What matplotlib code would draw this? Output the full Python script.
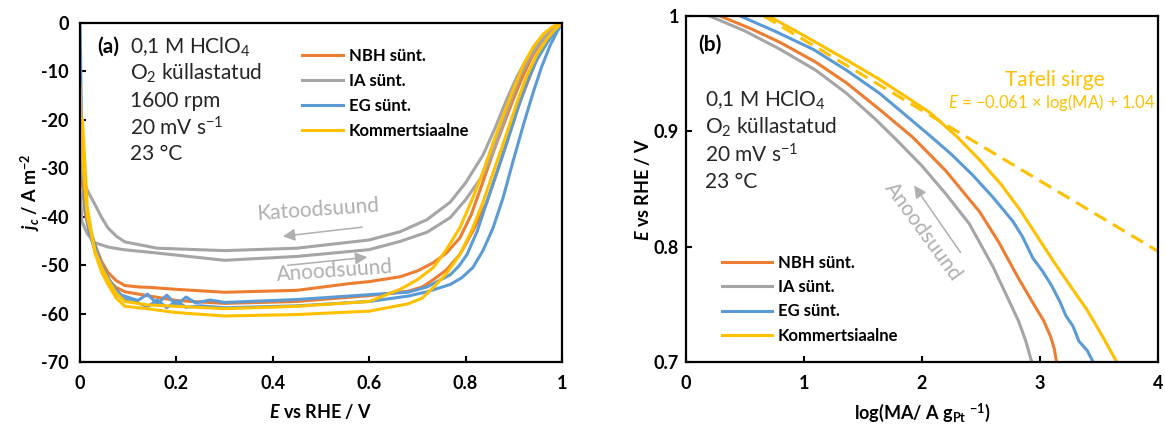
import matplotlib
matplotlib.use("Agg")
import matplotlib.pyplot as plt

plt.rcParams['font.family'] = ['Lato', 'DejaVu Sans']
plt.rcParams['mathtext.fontset'] = 'custom'
plt.rcParams['mathtext.rm'] = 'Lato'
plt.rcParams['mathtext.it'] = 'Lato:italic'
plt.rcParams['mathtext.bf'] = 'Lato:bold'
plt.rcParams['mathtext.bfit'] = 'Lato:italic:bold'
plt.rcParams['axes.unicode_minus'] = False

# colours (Office palette)
ORANGE = '#ED7D31'
GRAY = '#A5A5A5'
BLUE = '#5B9BD5'
YELLOW = '#FFC000'

labels = ['NBH sünt.', 'IA sünt.', 'EG sünt.', 'Kommertsiaalne']

# ---------- (a) polarisation curves, E / V vs j / A m-2 ----------
# NBH
nbh_E1 = [0.0, 0.005, 0.01, 0.02, 0.031, 0.045, 0.058, 0.075, 0.093, 0.12, 0.145, 0.2, 0.3, 0.45, 0.56, 0.6, 0.664,
          0.70, 0.733, 0.76, 0.788, 0.812, 0.836, 0.858, 0.878, 0.90, 0.919, 0.94, 0.961, 0.98, 1.0]
nbh_j1 = [-20, -31, -38, -42.5, -45.8, -49.3, -51.5, -53.2, -54.2, -54.5, -54.6, -55.0, -55.6, -55.2, -53.8, -53.4, -52.4,
          -51.2, -49.5, -47.5, -44.4, -39.5, -32.8, -26.5, -21.2, -15.5, -10.9, -6.5, -3.3, -1.3, 0]
nbh_E2 = [0.0, 0.005, 0.01, 0.02, 0.031, 0.045, 0.058, 0.075, 0.093, 0.14, 0.2, 0.3, 0.45, 0.6, 0.68,
          0.71, 0.733, 0.76, 0.788, 0.815, 0.844, 0.868, 0.892, 0.914, 0.934, 0.95, 0.965, 0.98, 1.0]
nbh_j2 = [-22, -33, -39, -43.5, -46.5, -50.5, -53, -54.6, -55.5, -56.3, -57.3, -57.9, -57.5, -56.3, -55.4,
          -54.5, -53.0, -51.0, -47.8, -43.0, -37, -30, -22.6, -16, -10.9, -6.8, -3.8, -1.6, 0]

# IA
ia_E1 = [0.0, 0.004, 0.015, 0.031, 0.045, 0.058, 0.075, 0.093, 0.16, 0.3, 0.45, 0.6, 0.664,
         0.72, 0.768, 0.80, 0.836, 0.862, 0.886, 0.907, 0.927, 0.95, 0.969, 0.985, 1.0]
ia_j1 = [-26, -31.4, -34.5, -37.5, -40.2, -42.3, -44.0, -45.2, -46.5, -47.0, -46.5, -44.8, -43.1,
         -40.6, -37.0, -33.0, -27.3, -21.5, -15.6, -11.0, -7.4, -4.5, -2.7, -1.2, 0]
ia_E2 = [0.0, 0.004, 0.015, 0.031, 0.06, 0.09, 0.15, 0.3, 0.45, 0.6, 0.664,
         0.72, 0.768, 0.80, 0.836, 0.855, 0.871, 0.892, 0.913, 0.935, 0.954, 0.975, 1.0]
ia_j2 = [-35, -41, -43.5, -45.4, -46.3, -46.8, -47.4, -49.0, -48.2, -46.8, -45.1,
         -43.2, -40.2, -36.5, -31.4, -27, -22.6, -16.5, -10.9, -6.8, -4.0, -1.8, 0]

# EG
eg_E1 = [0.0, 0.003, 0.01, 0.02, 0.031, 0.045, 0.058, 0.072, 0.086, 0.12, 0.14, 0.16, 0.18, 0.2, 0.22, 0.24, 0.27, 0.3,
         0.45, 0.6, 0.68, 0.72, 0.768, 0.786, 0.803, 0.824, 0.844, 0.866, 0.886, 0.907, 0.927, 0.948, 0.969, 0.985, 1.0]
eg_j1 = [0, -20, -37, -42.5, -46, -50, -52.5, -54.8, -56.2, -57.3, -56.0, -58.0, -56.2, -58.2, -56.6, -57.8, -57.2, -57.7,
         -57.1, -56.1, -55.6, -54.5, -52, -50.2, -47.8, -43, -37, -30.5, -24.6, -18, -12.3, -7.6, -4.1, -1.8, 0]
eg_E2 = [0.01, 0.02, 0.031, 0.045, 0.058, 0.075, 0.09, 0.12, 0.14, 0.16, 0.18, 0.2, 0.22, 0.25, 0.3, 0.45, 0.6, 0.68,
         0.72, 0.768, 0.792, 0.815, 0.836, 0.857, 0.878, 0.898, 0.92, 0.94, 0.958, 0.975, 0.99, 1.0]
eg_j2 = [-38, -43.5, -47, -51, -53.5, -55.8, -57.0, -57.8, -58.6, -57.2, -58.8, -57.4, -58.7, -58.4, -58.8, -58.4, -57.5, -56.4,
         -55.5, -54.0, -52.6, -50.5, -47, -42.3, -36, -28.7, -21, -14.4, -9, -4.7, -1.8, 0]

# Kommertsiaalne
kom_E1 = [0.0, 0.005, 0.015, 0.031, 0.045, 0.058, 0.075, 0.093, 0.14, 0.3, 0.45, 0.6, 0.664,
          0.70, 0.733, 0.76, 0.788, 0.812, 0.836, 0.858, 0.878, 0.90, 0.919, 0.94, 0.961, 0.98, 1.0]
kom_j1 = [-13, -28, -40, -47, -50.5, -53, -55.8, -57.5, -58.2, -59.0, -58.5, -57.5, -55.0,
          -53.0, -50.5, -46.8, -42.3, -36.8, -30.8, -24.5, -19.1, -13.5, -8.8, -5.0, -2.3, -0.8, 0]
kom_E2 = [0.005, 0.015, 0.031, 0.045, 0.058, 0.075, 0.093, 0.14, 0.2, 0.3, 0.45, 0.6, 0.68,
          0.71, 0.733, 0.76, 0.788, 0.812, 0.836, 0.862, 0.886, 0.907, 0.927, 0.948, 0.969, 0.985, 1.0]
kom_j2 = [-20, -38, -47.5, -51.5, -54, -56.8, -58.5, -59.0, -59.8, -60.5, -60.2, -59.5, -58.0,
          -56.8, -54.6, -51.8, -47.8, -43, -37, -29.5, -22.6, -16.3, -10.9, -6.5, -3.3, -1.4, 0]

# ---------- (b) Tafel plot, log(MA) vs E ----------
nbh_logMA = [0.29, 0.55, 0.80, 1.1, 1.36, 1.64, 1.92, 2.2, 2.49, 2.65, 2.81, 2.93, 3.03, 3.09, 3.12, 3.14]
nbh_Et = [1.0, 0.989, 0.977, 0.960, 0.942, 0.919, 0.895, 0.866, 0.830, 0.804, 0.774, 0.753, 0.736, 0.722, 0.712, 0.70]
ia_logMA = [0.20, 0.5, 0.80, 1.1, 1.36, 1.6, 1.79, 2.0, 2.2, 2.4, 2.6, 2.72, 2.82, 2.88, 2.93]
ia_Et = [1.0, 0.987, 0.971, 0.953, 0.933, 0.911, 0.892, 0.870, 0.846, 0.820, 0.783, 0.757, 0.735, 0.718, 0.70]
eg_logMA = [0.46, 0.75, 1.08, 1.36, 1.64, 1.85, 2.07, 2.25, 2.43, 2.6, 2.77, 2.85, 2.94, 3.02, 3.1, 3.17, 3.22, 3.28,
            3.33, 3.40, 3.45]
eg_Et = [1.0, 0.987, 0.971, 0.953, 0.933, 0.915, 0.896, 0.880, 0.862, 0.843, 0.822, 0.809, 0.790, 0.779, 0.766, 0.752,
         0.740, 0.731, 0.718, 0.710, 0.70]
kom_logMA = [0.70, 1.0, 1.36, 1.64, 1.85, 2.07, 2.3, 2.49, 2.67, 2.83, 2.97, 3.11, 3.25, 3.40, 3.52, 3.65]
kom_Et = [1.0, 0.983, 0.962, 0.945, 0.931, 0.916, 0.895, 0.875, 0.854, 0.832, 0.810, 0.788, 0.767, 0.745, 0.724, 0.70]
tafel_logMA = [0.66, 4.0]
tafel_E = [1.0, 0.796]

fig = plt.figure(figsize=(11.65, 4.28), dpi=100)
ax1 = fig.add_axes([0.0687, 0.1542, 0.4137, 0.7921])
ax2 = fig.add_axes([0.5888, 0.1542, 0.4052, 0.8084])

LW = 2.2
curves_a = [(nbh_E1, nbh_j1, nbh_E2, nbh_j2, ORANGE),
            (ia_E1, ia_j1, ia_E2, ia_j2, GRAY),
            (eg_E1, eg_j1, eg_E2, eg_j2, BLUE),
            (kom_E1, kom_j1, kom_E2, kom_j2, YELLOW)]
for (e1, j1, e2, j2, c), lab in zip(curves_a, labels):
    ax1.plot(e1, j1, color=c, lw=LW, label=lab, solid_joinstyle='round')
    ax1.plot(e2, j2, color=c, lw=LW, solid_joinstyle='round')

curves_b = [(nbh_logMA, nbh_Et, ORANGE), (ia_logMA, ia_Et, GRAY),
            (eg_logMA, eg_Et, BLUE), (kom_logMA, kom_Et, YELLOW)]
for (x, y, c), lab in zip(curves_b, labels):
    ax2.plot(x, y, color=c, lw=LW, label=lab, solid_joinstyle='round')
ax2.plot(tafel_logMA, tafel_E, color=YELLOW, lw=2.2, ls=(0, (4.5, 2.5)))

ax1.set_xlim(0, 1)
ax1.set_ylim(-70, 0)
ax1.set_xticks([0, 0.2, 0.4, 0.6, 0.8, 1])
ax1.set_xticklabels(['0', '0.2', '0.4', '0.6', '0.8', '1'])
ax1.set_yticks(range(-70, 1, 10))
ax1.set_yticklabels([str(v) for v in range(-70, 1, 10)])
ax1.set_xlabel(r'$\mathbfit{E}$ vs RHE / V', fontsize=13, fontweight='bold')
ax1.set_ylabel(r'$\mathbfit{j}_{\mathbfit{c}}$ / A m$^{\mathbf{-2}}$', fontsize=13, fontweight='bold')
ax1.xaxis.set_label_coords(0.5, -0.118)
ax1.yaxis.set_label_coords(-0.078, 0.5)

ax2.set_xlim(0, 4)
ax2.set_ylim(0.7, 1.0)
ax2.set_xticks([0, 1, 2, 3, 4])
ax2.set_xticklabels(['0', '1', '2', '3', '4'])
ax2.set_yticks([0.7, 0.8, 0.9, 1.0])
ax2.set_yticklabels(['0.7', '0.8', '0.9', '1'])
ax2.set_xlabel(r'log(MA/ A g$_{\mathbf{Pt}}$ $^{\mathbf{-1}}$)', fontsize=13, fontweight='bold')
ax2.set_ylabel(r'$\mathbfit{E}$ vs RHE / V', fontsize=13, fontweight='bold')
ax2.xaxis.set_label_coords(0.5, -0.115)
ax2.yaxis.set_label_coords(-0.071, 0.5)

# axes styling
for ax in (ax1, ax2):
    for s in ax.spines.values():
        s.set_linewidth(1.6)
        s.set_color('black')
    ax.tick_params(direction='in', length=4, width=1.5, labelsize=13)
    ax.tick_params(axis='x', pad=9)
    ax.tick_params(axis='y', pad=8)
ax2.tick_params(axis='y', pad=5)

# legends
leg_kw = dict(frameon=False, borderpad=0, borderaxespad=0, handletextpad=0.35,
              prop={'weight': 'bold', 'size': 12})
ax1.legend(loc='upper left', bbox_to_anchor=(0.461, 0.927), handlelength=2.45, labelspacing=0.55, **leg_kw)
ax2.legend(loc='upper left', bbox_to_anchor=(0.076, 0.31), handlelength=3.0, labelspacing=0.5, **leg_kw)

TEXT = '#262626'
# annotations (a)
ax1.text(0.035, 0.929, '(a)', transform=ax1.transAxes, fontsize=15, fontweight='bold', va='center')
cond_a = ['0,1 M HClO$_4$', 'O$_2$ küllastatud', '1600 rpm', '20 mV s$^{−1}$', '23 °C']
for i, s in enumerate(cond_a):
    ax1.text(0.104, 0.929 - i * 0.079, s, transform=ax1.transAxes, fontsize=15,
             va='center', color=TEXT)

TXTGRAY = '#AFAFAF'
ax1.text(0.494, -38.6, 'Katoodsuund', color=TXTGRAY, fontsize=15,
         ha='center', va='center', rotation=4)
ax1.annotate('', xy=(0.415, -44.1), xytext=(0.591, -42.1),
             arrowprops=dict(arrowstyle='-|>', color=TXTGRAY, lw=1.1, mutation_scale=18))
ax1.text(0.529, -51.3, 'Anoodsuund', color=TXTGRAY, fontsize=15,
         ha='center', va='center', rotation=4)
ax1.annotate('', xy=(0.602, -48.3), xytext=(0.425, -50.1),
             arrowprops=dict(arrowstyle='-|>', color=TXTGRAY, lw=1.1, mutation_scale=18))

# annotations (b)
ax2.text(0.025, 0.916, '(b)', transform=ax2.transAxes, fontsize=15, fontweight='bold', va='center')
cond_b = ['0,1 M HClO$_4$', 'O$_2$ küllastatud', '20 mV s$^{−1}$', '23 °C']
for i, s in enumerate(cond_b):
    ax2.text(0.040, 0.757 - i * 0.079, s, transform=ax2.transAxes, fontsize=15,
             va='center', color=TEXT)
ax2.text(0.782, 0.815, 'Tafeli sirge', transform=ax2.transAxes, color=YELLOW, fontsize=15,
         ha='center', va='center')
ax2.text(0.994, 0.749, r'$\mathit{E}$ = −0.061 × log(MA) + 1.04', transform=ax2.transAxes,
         color=YELLOW, fontsize=12, ha='right', va='center')
ax2.text(2.01, 0.813, 'Anoodsuund', color=TXTGRAY, fontsize=15,
         ha='center', va='center', rotation=-54)
ax2.annotate('', xy=(1.92, 0.855), xytext=(2.34, 0.793),
             arrowprops=dict(arrowstyle='-|>', color=TXTGRAY, lw=1.1, mutation_scale=18))

# make sure the tick labels come out bold (set after the ticks exist)
fig.canvas.draw()
for ax in (ax1, ax2):
    for t in ax.get_xticklabels() + ax.get_yticklabels():
        t.set_fontweight('bold')

fig.savefig('out.png', dpi=100)
